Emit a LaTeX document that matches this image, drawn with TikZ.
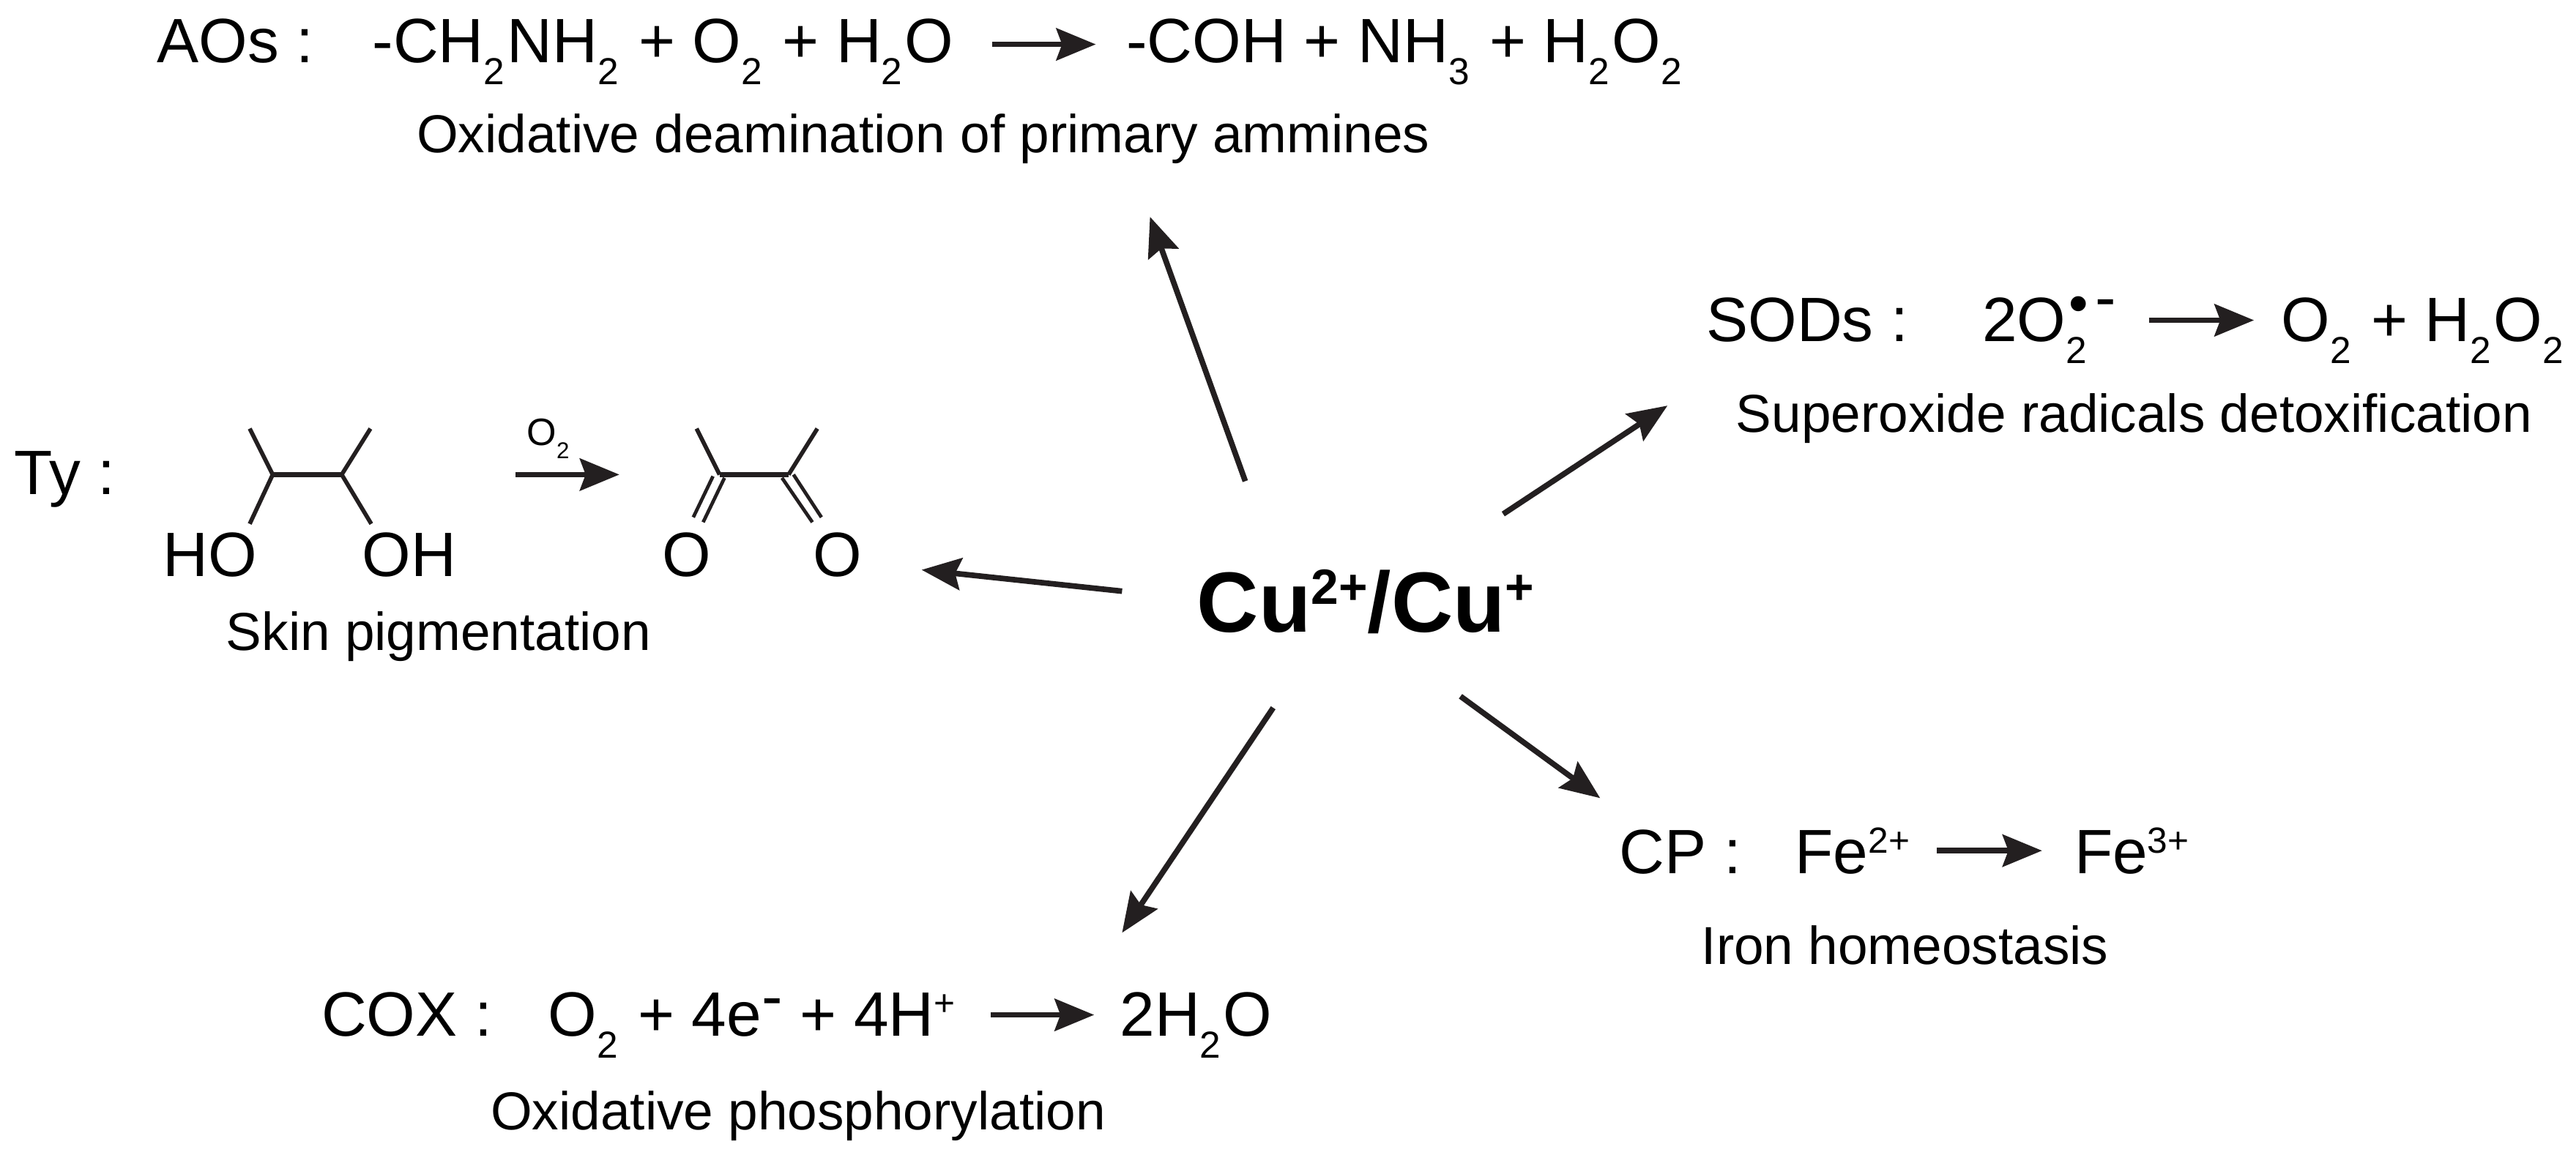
\documentclass[tikz,border=0pt]{standalone}
\usepackage{fontspec}
\setmainfont{Liberation Sans}
\usetikzlibrary{arrows.meta}
\definecolor{inkdark}{HTML}{231F20}
\newcommand{\sbs}[1]{\raisebox{-.35em}{\fontsize{.6em}{.6em}\selectfont #1}\kern.04em\relax}
\newcommand{\sps}[1]{\raisebox{.33em}{\fontsize{.58em}{.58em}\selectfont #1}}
\newcommand{\hyp}{\raisebox{.3em}{-}}
\tikzset{
  big/.style={inner sep=0pt,anchor=base west,font=\fontsize{10.85}{12}\selectfont},
  caption/.style={inner sep=0pt,anchor=base west,font=\fontsize{9.25}{11}\selectfont},
  elem/.style={inner sep=0pt,anchor=base,font=\fontsize{10.85}{12}\selectfont},
  rxn/.style={->,line width=0.97pt,inkdark},
  bond/.style={line width=0.72pt,inkdark},
  dbl/.style={line width=0.6pt,inkdark},
}
\begin{document}
\begin{tikzpicture}[>={Stealth[length=2.4mm,width=1.95mm,inset=0.35mm]},x=0.01cm,y=-0.01cm]
\useasboundingbox (0,0) rectangle (1568,703);
% center
\node[inner sep=0pt,anchor=base west,font=\fontsize{14.8}{16}\selectfont\bfseries] (cu) at (728,385) {Cu\sps{2+}/Cu\sps{+}};
% AOs
\node[big] (aos) at (95,38) {AOs :};
\node[big] (aosL) at (226,38) {-CH\sbs{2}NH\sbs{2} + O\sbs{2} + H\sbs{2}O};
\node[big] (aosR) at (685,38) {-COH + NH\sbs{3} + H\sbs{2}O\sbs{2}};
\node[caption] (aosC) at (253,93) {Oxidative deamination of primary ammines};
\coordinate (aosA) at (604,27);
\coordinate (aosB) at (667,27);
\draw[rxn] (aosA) -- (aosB);
% SODs
\node[big] (sods) at (1038,208) {SODs :};
\node[big] (sodsL) at (1206,208) {2O\sbs{2}\rlap{\hspace{-.33em}\raisebox{.3em}{\fontsize{9.6}{9.6}\selectfont\textbullet}\hspace{.11em}\raisebox{.37em}{-}}};
\node[big] (sodsR) at (1388,208) {O\sbs{2} + H\sbs{2}O\sbs{2}};
\node[caption] (sodsC) at (1056,263) {Superoxide radicals detoxification};
\coordinate (sodsA) at (1308,195);
\coordinate (sodsB) at (1372,195);
\draw[rxn] (sodsA) -- (sodsB);
% Ty
\node[big] (ty) at (8,301) {Ty :};
\node[elem] (ho) at (128,351) {HO};
\node[elem] (oh) at (249,351) {OH};
\node[elem] (oa) at (418,351) {O};
\node[elem] (ob) at (510,351) {O};
\node[caption] (tyC) at (137,396) {Skin pigmentation};
\node[inner sep=0pt,anchor=base west,font=\fontsize{6.6}{8}\selectfont] (tyO) at (320,271) {O\sbs{2}};
\coordinate (c1) at (166,289);
\coordinate (c2) at (208,289);
\coordinate (c3) at (438,289);
\coordinate (c4) at (480,289);
\draw[bond] (152,261) -- (c1) -- (152,319);
\draw[bond] (225.5,261) -- (c2) -- (226,319);
\draw[line width=0.97pt,inkdark] (c1) -- (c2);
\coordinate (tyA) at (314,289);
\coordinate (tyB) at (377,289);
\draw[rxn] (tyA) -- (tyB);
\draw[bond] (424,261) -- (c3);
\draw[bond] (497.5,261) -- (c4);
\draw[line width=0.97pt,inkdark] (c3) -- (c4);
\draw[dbl] (434,290) -- (422,315);
\draw[dbl] (441,291) -- (428,318);
\draw[dbl] (476,291) -- (494.5,318);
\draw[dbl] (483,289) -- (500,315);
% CP
\node[big] (cp) at (985,532) {CP :};
\node[big] (cpL) at (1092,532) {Fe\sps{2+}};
\node[big] (cpR) at (1262,532) {Fe\sps{3+}};
\node[caption] (cpC) at (1035,587) {Iron homeostasis};
\coordinate (cpA) at (1179,518);
\coordinate (cpB) at (1243,518);
\draw[rxn] (cpA) -- (cpB);
% COX
\node[big] (cox) at (195,631) {COX :};
\node[big] (coxL) at (333,631) {O\sbs{2} + 4e\hyp{} + 4H\sps{+}};
\node[big] (coxR) at (681,631) {2H\sbs{2}O};
\node[caption] (coxC) at (298,688) {Oxidative phosphorylation};
\coordinate (coxA) at (603,618);
\coordinate (coxB) at (666,618);
\draw[rxn] (coxA) -- (coxB);
% arrows from center
\coordinate (toAosA) at (758,293);
\coordinate (toAosB) at (700,132);
\coordinate (toSodsA) at (915,313);
\coordinate (toSodsB) at (1015,247);
\coordinate (toTyA) at (683,360);
\coordinate (toTyB) at (561,347);
\coordinate (toCoxA) at (775,431);
\coordinate (toCoxB) at (683,568);
\coordinate (toCpA) at (889,424);
\coordinate (toCpB) at (974,486);
\draw[rxn] (toAosA) -- (toAosB);
\draw[rxn] (toSodsA) -- (toSodsB);
\draw[rxn] (toTyA) -- (toTyB);
\draw[rxn] (toCoxA) -- (toCoxB);
\draw[rxn] (toCpA) -- (toCpB);
\end{tikzpicture}
\end{document}
